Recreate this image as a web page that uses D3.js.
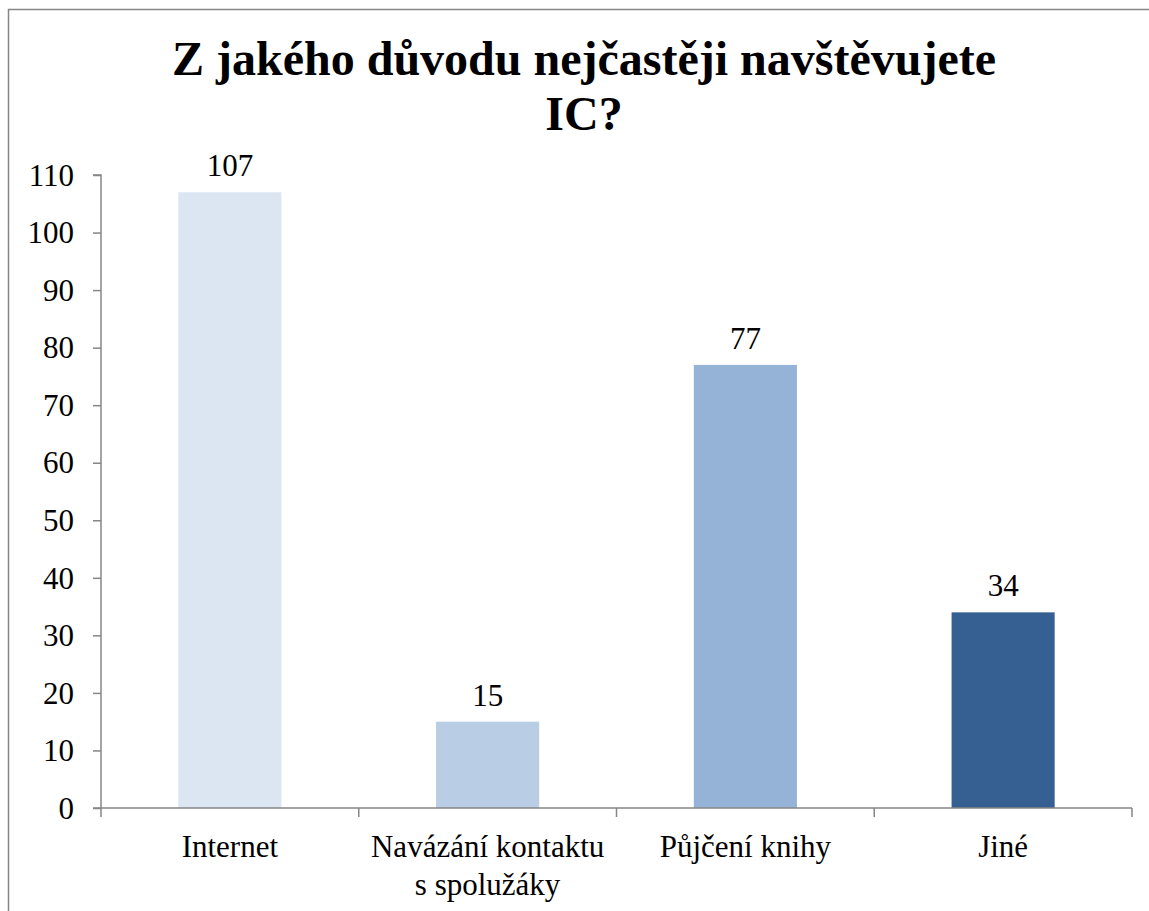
<!DOCTYPE html>
<html>
<head>
<meta charset="utf-8">
<script src="https://cdn.jsdelivr.net/npm/d3@7"></script>
<style>
  html, body { margin: 0; padding: 0; background: #ffffff; }
  svg { display: block; }
</style>
</head>
<body>
<script>
const categories = [["Internet"], ["Navázání kontaktu", "s spolužáky"], ["Půjčení knihy"], ["Jiné"]];
const categoryKeys = ["Internet", "Navázání kontaktu s spolužáky", "Půjčení knihy", "Jiné"];
const values = [107, 15, 77, 34];
const barColors = ["#dce6f2", "#b9cde5", "#95b3d7", "#376092"];
const yTicks = [0, 10, 20, 30, 40, 50, 60, 70, 80, 90, 100, 110];
const titleLines = ["Z jakého důvodu nejčastěji navštěvujete", "IC?"];

const W = 1149, H = 911;
const svg = d3.select("body").append("svg").attr("width", W).attr("height", H);
const font = "'Liberation Serif', 'Times New Roman', serif";
const axisColor = "#868686";

// outer border
svg.append("rect").attr("x", 8.5).attr("y", 9.5).attr("width", W + 20).attr("height", H + 20)
  .attr("fill", "none").attr("stroke", axisColor).attr("stroke-width", 1.5);

// title
svg.append("g").selectAll("text").data(titleLines).join("text")
  .attr("x", 584).attr("y", (d, i) => 75 + i * 55)
  .attr("text-anchor", "middle").attr("font-family", font)
  .attr("font-weight", "bold").attr("font-size", 48).attr("fill", "#000")
  .text(d => d);

const x0 = 101, x1 = 1132, y0 = 808, y1 = 175;
const x = d3.scaleBand().domain(categoryKeys).range([x0, x1]).paddingInner(0.6).paddingOuter(0.3);
const xb = d3.scaleBand().domain(categoryKeys).range([x0, x1]);
const y = d3.scaleLinear().domain([0, 110]).range([y0, y1]);

// bars
svg.append("g").selectAll("rect").data(values).join("rect")
  .attr("x", (d, i) => x(categoryKeys[i]))
  .attr("width", x.bandwidth())
  .attr("y", d => y(d))
  .attr("height", d => y(0) - y(d))
  .attr("fill", (d, i) => barColors[i]);

// value labels
svg.append("g").selectAll("text").data(values).join("text")
  .attr("x", (d, i) => x(categoryKeys[i]) + x.bandwidth() / 2)
  .attr("y", d => y(d) - 16)
  .attr("text-anchor", "middle").attr("font-family", font).attr("font-size", 31).attr("fill", "#000")
  .text(d => d);

// y axis
const yAxis = d3.axisLeft(y).tickValues(yTicks).tickSize(8).tickPadding(19);
const gy = svg.append("g").attr("transform", `translate(${x0},0)`).call(yAxis);
gy.select(".domain").attr("stroke", axisColor).attr("stroke-width", 1.5).attr("d", `M-8,${y1}H0V${y0}`);
gy.selectAll(".tick line").attr("stroke", axisColor).attr("stroke-width", 1.5);
gy.selectAll(".tick text").attr("font-family", font).attr("font-size", 31).attr("fill", "#000").attr("dy", "0.33em");

// x axis
const xAxis = d3.axisBottom(xb).tickSize(0).tickFormat("");
const gx = svg.append("g").attr("transform", `translate(0,${y0})`).call(xAxis);
gx.select(".domain").attr("stroke", axisColor).attr("stroke-width", 1.5).attr("d", `M${x0 - 8},0H${x1}`);
gx.selectAll(".tick").remove();
// boundary ticks between categories
const bounds = categoryKeys.map(k => xb(k)).concat([x1]);
gx.selectAll("line.b").data(bounds).join("line").attr("class", "b")
  .attr("x1", d => d).attr("x2", d => d).attr("y1", 0).attr("y2", 9)
  .attr("stroke", axisColor).attr("stroke-width", 1.5);

// category labels
const lab = svg.append("g").selectAll("text").data(categories).join("text")
  .attr("x", (d, i) => xb(categoryKeys[i]) + xb.bandwidth() / 2)
  .attr("y", 857)
  .attr("text-anchor", "middle").attr("font-family", font).attr("font-size", 31).attr("fill", "#000");
lab.selectAll("tspan").data(d => d).join("tspan")
  .attr("x", function() { return this.parentNode.getAttribute("x"); })
  .attr("dy", (d, i) => i === 0 ? 0 : 38)
  .text(d => d);
</script>
</body>
</html>
